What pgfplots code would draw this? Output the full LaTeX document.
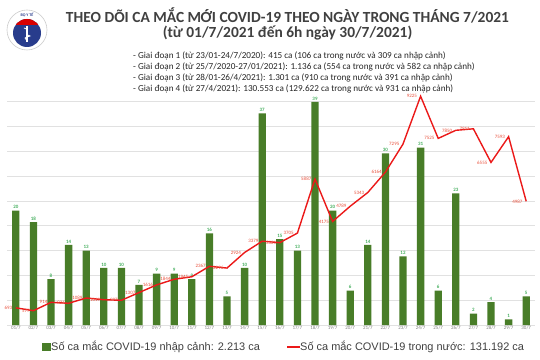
\documentclass[border=0pt]{standalone}
\usepackage{pgfplots}
\pgfplotsset{compat=1.18}
\usepackage{pgfplotstable}
\usepackage{fontspec}
\setmainfont{Carlito}
\newfontfamily\arial{Liberation Sans}
\definecolor{bargreen}{RGB}{72,125,40}
\definecolor{lblgreen}{RGB}{70,175,95}
\definecolor{linered}{RGB}{235,25,25}
\definecolor{lblred}{RGB}{232,80,60}
\definecolor{titlegray}{RGB}{64,64,64}
\definecolor{gridgray}{RGB}{225,225,225}
\definecolor{logoblue}{RGB}{40,60,140}
\pgfplotstableread{
x bar line
1 20 693
2 18 577
3 8 914
4 14 876
5 13 1089
6 10 1019
7 10 997
8 7 1307
9 9 1616
10 9 1844
11 8 1945
12 16 2367
13 5 2296
14 10 2924
15 37 3379
16 15 3321
17 13 3705
18 39 5887
19 20 4175
20 6 4789
21 14 5343
22 30 6164
23 12 7295
24 31 9225
25 6 7525
26 23 7850
27 2 7911
28 4 6555
29 1 7593
30 5 4987
}\data
\pgfplotsset{base/.style={at={(7bp,35bp)}, anchor=south west, scale only axis,
  width=528bp, height=248bp, xmin=0.5, xmax=30.5, ymin=0, clip=false, scaled y ticks=false}}
\begin{document}
\begin{tikzpicture}
\path[use as bounding box] (0,0) rectangle (540bp,360bp);
% grid + x labels
\begin{axis}[base, ymax=10000, ytick={0,1000,...,9000}, yticklabels={},
  ymajorgrids, major grid style={gridgray, line width=0.8bp},
  axis line style={draw=none}, major tick length=0pt,
  xtick={1,...,30},
  xticklabels={01/7,02/7,03/7,04/7,05/7,06/7,07/7,08/7,09/7,10/7,11/7,12/7,13/7,14/7,15/7,16/7,17/7,18/7,19/7,20/7,21/7,22/7,23/7,24/7,25/7,26/7,27/7,28/7,29/7,30/7},
  xticklabel style={font=\fontsize{5}{6}\selectfont, text=gray, yshift=2bp}]
\addplot[draw=none] table[x=x,y=line]{\data};
\end{axis}
% bars
\begin{axis}[base, ymax=43.36, hide axis]
\addplot[ybar, bar width=7.3bp, fill=bargreen, draw=none,
  nodes near coords={\pgfmathprintnumber[assume math mode=true]{\pgfplotspointmeta}},
  every node near coord/.append style={font=\fontsize{5}{6}\selectfont\bfseries, text=lblgreen, inner sep=1.5bp}]
  table[x=x,y=bar]{\data};
\end{axis}
% line
\begin{axis}[base, ymax=10000, hide axis]
\addplot[linered, line width=1.4bp, mark=none,
  nodes near coords={\pgfmathprintnumber[assume math mode=true,1000 sep={}]{\pgfplotspointmeta}},
  every node near coord/.append style={font=\fontsize{5}{6}\selectfont, text=lblred, anchor=east, inner sep=1bp, xshift=-2bp}]
  table[x=x,y=line]{\data};
\end{axis}
% titles
\node[font=\fontsize{15.5}{16}\selectfont\bfseries, text=titlegray] at (287.5bp,345bp) {THEO DÕI CA MẮC MỚI COVID-19 THEO NGÀY TRONG THÁNG 7/2021};
\node[font=\fontsize{15.5}{16}\selectfont\bfseries, text=titlegray] at (287.5bp,327bp) {(từ 01/7/2021 đến 6h ngày 30/7/2021)};
\begin{scope}[every node/.style={anchor=west, font=\fontsize{9.2}{10}\selectfont, text=black!85, inner sep=0pt}]
\node at (133bp,304bp) {- Giai đoạn 1 (từ 23/01-24/7/2020): 415 ca (106 ca trong nước và 309 ca nhập cảnh)};
\node at (133bp,293bp) {- Giai đoạn 2 (từ 25/7/2020-27/01/2021): 1.136 ca (554 ca trong nước và 582 ca nhập cảnh)};
\node at (133bp,282bp) {- Giai đoạn 3 (từ 28/01-26/4/2021): 1.301 ca (910 ca trong nước và 391 ca nhập cảnh)};
\node at (133bp,271bp) {- Giai đoạn 4 (từ 27/4/2021): 130.553 ca (129.622 ca trong nước và 931 ca nhập cảnh)};
\end{scope}
% logo
\fill[white] (27bp,330bp) circle (20bp);
\draw[gray!40, line width=0.6bp] (27bp,330bp) circle (20bp);
\fill[logoblue] (27bp,327bp) circle (14bp);
\begin{scope}
\clip (27bp,327bp) circle (14bp);
\fill[red!85!black] (12bp,335bp) rectangle (42bp,342bp);
\end{scope}
\draw[white, line width=1.2bp] (27bp,318bp) -- (27bp,334bp);
\draw[white, line width=0.8bp] (24bp,332bp) .. controls (31bp,330bp) and (23bp,326bp) .. (30bp,324bp) .. controls (24bp,322bp) .. (27bp,320bp);
\node[font=\fontsize{4}{4}\selectfont\bfseries, text=logoblue] at (27bp,345bp) {BỘ Y TẾ};
% legend
\fill[bargreen] (42bp,9bp) rectangle (51bp,17bp);
\node[anchor=west, font=\arial\fontsize{11}{12}\selectfont, text=black!75, inner sep=0pt] at (51bp,13bp) {Số ca mắc COVID-19 nhập cảnh: 2.213 ca};
\draw[linered, line width=1.5bp] (287bp,13bp) -- (300bp,13bp);
\node[anchor=west, font=\arial\fontsize{11}{12}\selectfont, text=black!75, inner sep=0pt] at (300bp,13bp) {Số ca mắc COVID-19 trong nước: 131.192 ca};
\end{tikzpicture}
\end{document}
